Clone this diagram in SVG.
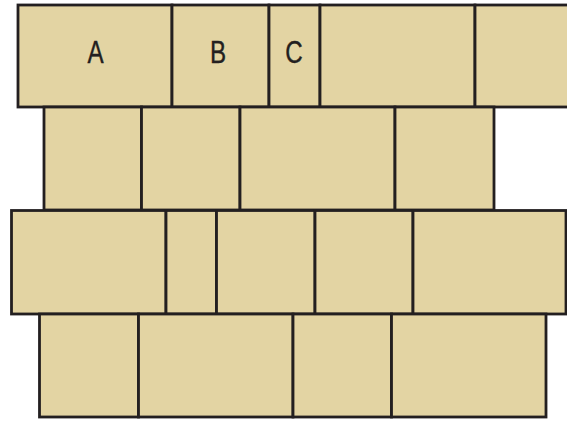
<svg xmlns="http://www.w3.org/2000/svg" width="567" height="422" viewBox="0 0 567 422">
<style>
.s{fill:#E3D4A3;stroke:#231F20;stroke-width:2.8;stroke-linejoin:miter}
.t{font-family:"Liberation Sans",Arial,sans-serif;font-size:31px;fill:#231F20;text-anchor:middle;stroke:#231F20;stroke-width:0.4}
</style>
<rect width="567" height="422" fill="#fff"/>
<g id="row1">
<g id="A"><rect class="s" x="18" y="5" width="154" height="102"/><text class="t" transform="translate(95.5,62.5) scale(0.78,1)">A</text></g>
<g id="B"><rect class="s" x="172" y="5" width="97" height="102"/><text class="t" transform="translate(218,62.5) scale(0.78,1)">B</text></g>
<g id="C"><rect class="s" x="269" y="5" width="51" height="102"/><text class="t" transform="translate(294,62.5) scale(0.78,1)">C</text></g>
<g id="r1s4"><rect class="s" x="320" y="5" width="155" height="102"/></g>
<g id="r1s5"><rect class="s" x="475" y="5" width="100" height="102"/></g>
</g>
<g id="row2">
<g id="r2s1"><rect class="s" x="44" y="107" width="97.5" height="103"/></g>
<g id="r2s2"><rect class="s" x="141.5" y="107" width="98.5" height="103"/></g>
<g id="r2s3"><rect class="s" x="240" y="107" width="155" height="103"/></g>
<g id="r2s4"><rect class="s" x="395" y="107" width="99" height="103"/></g>
</g>
<g id="row3">
<g id="r3s1"><rect class="s" x="11.5" y="210.5" width="154.5" height="103.5"/></g>
<g id="r3s2"><rect class="s" x="166" y="210.5" width="50.5" height="103.5"/></g>
<g id="r3s3"><rect class="s" x="216.5" y="210.5" width="98.5" height="103.5"/></g>
<g id="r3s4"><rect class="s" x="315" y="210.5" width="98" height="103.5"/></g>
<g id="r3s5"><rect class="s" x="413" y="210.5" width="153" height="103.5"/></g>
</g>
<g id="row4">
<g id="r4s1"><rect class="s" x="39.5" y="314" width="99" height="103"/></g>
<g id="r4s2"><rect class="s" x="138.5" y="314" width="154.5" height="103"/></g>
<g id="r4s3"><rect class="s" x="293" y="314" width="98.5" height="103"/></g>
<g id="r4s4"><rect class="s" x="391.5" y="314" width="154.5" height="103"/></g>
</g>
<g id="connectors"/>
</svg>
